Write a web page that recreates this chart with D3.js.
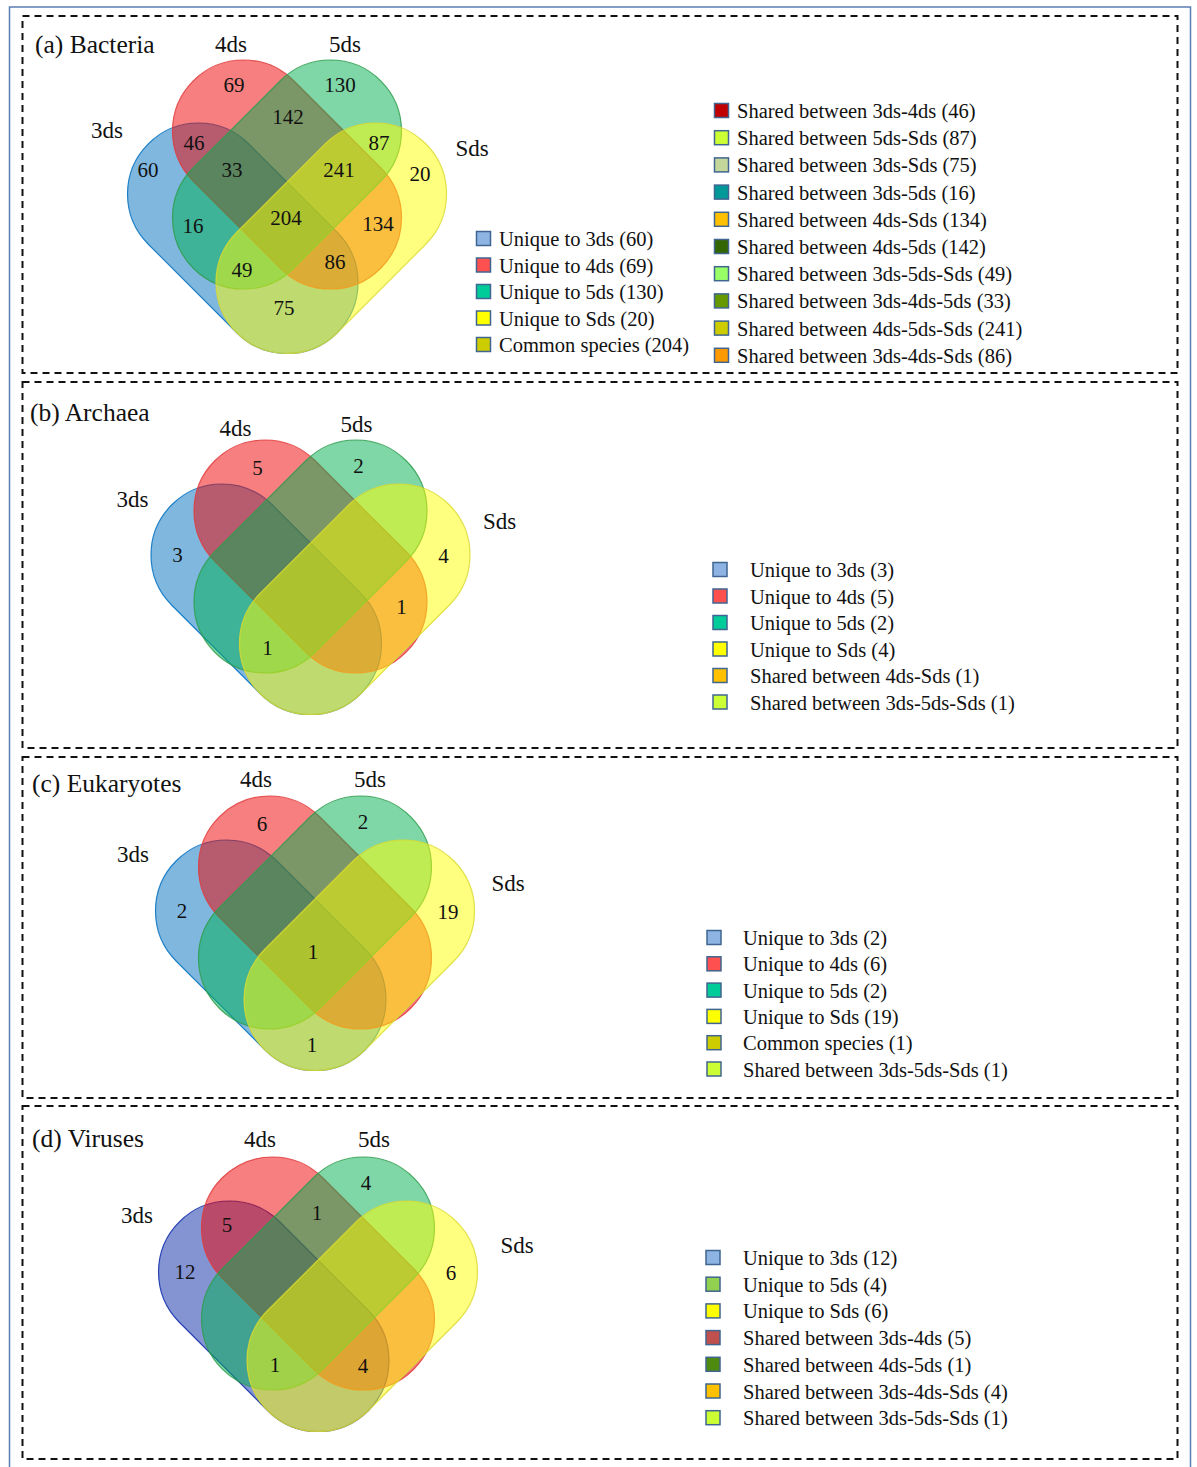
<!DOCTYPE html>
<html>
<head>
<meta charset="utf-8">
<script src="https://cdnjs.cloudflare.com/ajax/libs/d3/7.8.5/d3.min.js"></script>
<style>
  body { margin: 0; background: #fff; }
  text { font-family: "Liberation Serif", "Times New Roman", serif; fill: #111; }
</style>
</head>
<body>
<div id="vis_venn"></div>
<script>
// ---- data ----
const setNames = ["3ds", "4ds", "5ds", "Sds"];
const panelTitles = ["(a) Bacteria", "(b) Archaea", "(c) Eukaryotes", "(d) Viruses"];

const bacteriaRegions = ["3ds", "4ds", "5ds", "Sds", "3ds-4ds", "4ds-5ds", "5ds-Sds", "3ds-5ds", "4ds-Sds",
  "3ds-Sds", "3ds-4ds-5ds", "4ds-5ds-Sds", "3ds-5ds-Sds", "3ds-4ds-Sds", "3ds-4ds-5ds-Sds"];
const bacteriaCounts = [60, 69, 130, 20, 46, 142, 87, 16, 134, 75, 33, 241, 49, 86, 204];

const archaeaRegions = ["3ds", "4ds", "5ds", "Sds", "4ds-Sds", "3ds-5ds-Sds"];
const archaeaCounts = [3, 5, 2, 4, 1, 1];

const eukaryoteRegions = ["3ds", "4ds", "5ds", "Sds", "3ds-4ds-5ds-Sds", "3ds-Sds"];
const eukaryoteCounts = [2, 6, 2, 19, 1, 1];

const virusRegions = ["3ds", "5ds", "Sds", "3ds-4ds", "4ds-5ds", "3ds-5ds-Sds", "3ds-4ds-Sds"];
const virusCounts = [12, 4, 6, 5, 1, 1, 4];

const bacteriaLegend1 = ["Unique to 3ds", "Unique to 4ds", "Unique to 5ds", "Unique to Sds", "Common species"];
const bacteriaLegend1Counts = [60, 69, 130, 20, 204];
const bacteriaLegend2 = ["Shared between 3ds-4ds", "Shared between 5ds-Sds", "Shared between 3ds-Sds",
  "Shared between 3ds-5ds", "Shared between 4ds-Sds", "Shared between 4ds-5ds", "Shared between 3ds-5ds-Sds",
  "Shared between 3ds-4ds-5ds", "Shared between 4ds-5ds-Sds", "Shared between 3ds-4ds-Sds"];
const bacteriaLegend2Counts = [46, 87, 75, 16, 134, 142, 49, 33, 241, 86];
const archaeaLegend = ["Unique to 3ds", "Unique to 4ds", "Unique to 5ds", "Unique to Sds",
  "Shared between 4ds-Sds", "Shared between 3ds-5ds-Sds"];
const archaeaLegendCounts = [3, 5, 2, 4, 1, 1];
const eukaryoteLegend = ["Unique to 3ds", "Unique to 4ds", "Unique to 5ds", "Unique to Sds",
  "Common species", "Shared between 3ds-5ds-Sds"];
const eukaryoteLegendCounts = [2, 6, 2, 19, 1, 1];
const virusLegend = ["Unique to 3ds", "Unique to 5ds", "Unique to Sds", "Shared between 3ds-4ds",
  "Shared between 4ds-5ds", "Shared between 3ds-4ds-Sds", "Shared between 3ds-5ds-Sds"];
const virusLegendCounts = [12, 4, 6, 5, 1, 4, 1];

// ---- styles ----
const legend1Colors = ["#8DB4E2", "#FF5050", "#00CC99", "#FFFF00", "#CCCC00"];
const legend2Colors = ["#C00000", "#CCFF33", "#C4D79B", "#009999", "#FFC000", "#336600", "#99FF66", "#669900", "#CCCC00", "#FF9900"];
const archaeaColors = ["#8DB4E2", "#FF5050", "#00CC99", "#FFFF00", "#FFC000", "#CCFF33"];
const eukaryoteColors = ["#8DB4E2", "#FF5050", "#00CC99", "#FFFF00", "#CCCC00", "#CCFF33"];
const virusColors = ["#8DB4E2", "#92D050", "#FFFF00", "#C0504D", "#4F8A10", "#FFC000", "#CCFF33"];

const setFill = { "3ds": "#0070C0", "4ds": "#F00000", "5ds": "#00B050", "Sds": "#FFFF00" };
const setStroke = { "3ds": "#2A56B8", "4ds": "#E03A3A", "5ds": "#2E9E4C", "Sds": "#DADA30" };

// region label anchors, relative to the venn origin (centre of the 4ds top lobe axis)
const stdAnchors = {
  "3ds": [-133, 44], "4ds": [-53, -43], "5ds": [48, -45], "Sds": [133, 45],
  "3ds-4ds": [-91, -3], "4ds-5ds": [-1, -15], "4ds-Sds": [91, 96],
  "3ds-5ds-Sds": [-43, 137], "3ds-4ds-Sds": [45, 138], "3ds-4ds-5ds-Sds": [-2, 85], "3ds-Sds": [-3, 178]
};
const tallAnchors = {
  "3ds": [-139, 39], "4ds": [-53, -46], "5ds": [53, -46], "Sds": [133, 43],
  "3ds-4ds": [-93, 12], "4ds-5ds": [1, -14], "5ds-Sds": [92, 12], "3ds-5ds": [-94, 95], "4ds-Sds": [91, 93],
  "3ds-Sds": [-3, 177], "3ds-4ds-5ds": [-55, 39], "4ds-5ds-Sds": [52, 39], "3ds-5ds-Sds": [-45, 139],
  "3ds-4ds-Sds": [48, 131], "3ds-4ds-5ds-Sds": [-1, 87]
};

const R = 71;

const panels = [
  { title: panelTitles[0], titlePos: [35, 53], box: [16, 357], origin: [287, 131], lobe: 43.5, drop: 63,
    regions: bacteriaRegions, counts: bacteriaCounts, anchors: tallAnchors,
    setLabels: [[-180, -1], [-56, -87], [58, -87], [185, 17]], blue: "#0070C0",
    legends: [
      { names: bacteriaLegend1, counts: bacteriaLegend1Counts, colors: legend1Colors, sx: 476.5, tx: 499, y0: 246, step: 26.5 },
      { names: bacteriaLegend2, counts: bacteriaLegend2Counts, colors: legend2Colors, sx: 714.5, tx: 737, y0: 118, step: 27.2 }
    ] },
  { title: panelTitles[1], titlePos: [30, 421], box: [382, 366], origin: [310.5, 511], lobe: 45.5, drop: 44,
    regions: archaeaRegions, counts: archaeaCounts, anchors: stdAnchors,
    setLabels: [[-178, -12], [-75, -83], [46, -87], [189, 10]], blue: "#0070C0",
    legends: [{ names: archaeaLegend, counts: archaeaLegendCounts, colors: archaeaColors, sx: 713, tx: 750, y0: 577, step: 26.5 }] },
  { title: panelTitles[2], titlePos: [32, 792], box: [757, 341], origin: [315, 867], lobe: 45.5, drop: 44,
    regions: eukaryoteRegions, counts: eukaryoteCounts, anchors: stdAnchors,
    setLabels: [[-182, -13], [-59, -88], [55, -88], [193, 16]], blue: "#0070C0",
    legends: [{ names: eukaryoteLegend, counts: eukaryoteLegendCounts, colors: eukaryoteColors, sx: 707, tx: 743, y0: 945, step: 26.3 }] },
  { title: panelTitles[3], titlePos: [32, 1147], box: [1106, 353], origin: [318, 1228], lobe: 45.5, drop: 44,
    regions: virusRegions, counts: virusCounts, anchors: stdAnchors,
    setLabels: [[-181, -13], [-58, -89], [56, -89], [199, 17]], blue: "#0A2AA8",
    legends: [{ names: virusLegend, counts: virusLegendCounts, colors: virusColors, sx: 706, tx: 743, y0: 1265, step: 26.7 }] }
];

const W = 1197, H = 1467;
const SVG = d3.select("#vis_venn").append("svg").attr("width", W).attr("height", H);
SVG.append("rect").attr("width", W).attr("height", H).attr("fill", "#fff");

// outer frame
SVG.append("rect").attr("x", 9.5).attr("y", 7).attr("width", 1181).attr("height", 1480)
  .attr("fill", "none").attr("stroke", "#5B7DB5").attr("stroke-width", 1.5);

// stadium shape between two centres
function capsule(p1, p2, r) {
  const dx = p2[0] - p1[0], dy = p2[1] - p1[1], L = Math.hypot(dx, dy);
  const nx = -dy / L * r, ny = dx / L * r;
  return "M" + (p1[0] + nx) + "," + (p1[1] + ny) +
    "L" + (p2[0] + nx) + "," + (p2[1] + ny) +
    "A" + r + "," + r + " 0 0 0 " + (p2[0] - nx) + "," + (p2[1] - ny) +
    "L" + (p1[0] - nx) + "," + (p1[1] - ny) +
    "A" + r + "," + r + " 0 0 0 " + (p1[0] + nx) + "," + (p1[1] + ny) + "Z";
}

panels.forEach(p => {
  const g = SVG.append("g");

  // dashed panel box
  g.append("rect").attr("x", 22.5).attr("y", p.box[0]).attr("width", 1155).attr("height", p.box[1])
    .attr("fill", "none").attr("stroke", "#111").attr("stroke-width", 2).attr("stroke-dasharray", "7,5");

  g.append("text").attr("x", p.titlePos[0]).attr("y", p.titlePos[1]).attr("font-size", 25.5).text(p.title);

  // venn space -> page
  const x = d3.scaleLinear().domain([-250, 250]).range([p.origin[0] - 250, p.origin[0] + 250]);
  const y = d3.scaleLinear().domain([-150, 300]).range([p.origin[1] - 150, p.origin[1] + 300]);
  const rr = x(R) - x(0);

  const ends = {
    "3ds": [[-88.5, p.drop], [0, p.drop + 88.5]],
    "4ds": [[-p.lobe, 0], [p.lobe, 2 * p.lobe]],
    "5ds": [[p.lobe, 0], [-p.lobe, 2 * p.lobe]],
    "Sds": [[88.5, p.drop], [0, p.drop + 88.5]]
  };

  g.selectAll("path.set")
    .data(setNames)
    .enter()
    .append("path")
      .attr("class", "set")
      .attr("d", s => capsule([x(ends[s][0][0]), y(ends[s][0][1])], [x(ends[s][1][0]), y(ends[s][1][1])], rr))
      .attr("fill", s => s === "3ds" ? p.blue : setFill[s])
      .attr("fill-opacity", 0.5)
      .attr("stroke", s => s === "3ds" ? p.blue : setStroke[s])
      .attr("stroke-opacity", 0.85)
      .attr("stroke-width", 1.2);

  g.selectAll("text.setlab")
    .data(setNames)
    .enter()
    .append("text")
      .attr("class", "setlab")
      .attr("x", (d, i) => x(p.setLabels[i][0]))
      .attr("y", (d, i) => y(p.setLabels[i][1]))
      .attr("text-anchor", "middle")
      .attr("dominant-baseline", "central")
      .attr("font-size", 23)
      .text(d => d);

  g.selectAll("text.num")
    .data(p.regions)
    .enter()
    .append("text")
      .attr("class", "num")
      .attr("x", d => x(p.anchors[d][0]))
      .attr("y", d => y(p.anchors[d][1]))
      .attr("text-anchor", "middle")
      .attr("dominant-baseline", "central")
      .attr("font-size", 21)
      .text((d, i) => p.counts[i]);

  // legends
  p.legends.forEach(lg => {
    const ly = d3.scaleLinear().domain([0, 1]).range([lg.y0, lg.y0 + lg.step]);
    const rows = g.selectAll(null)
      .data(lg.names)
      .enter()
      .append("g");
    rows.append("rect")
      .attr("x", lg.sx)
      .attr("y", (d, i) => ly(i) - 14.5)
      .attr("width", 14)
      .attr("height", 14)
      .attr("fill", (d, i) => lg.colors[i])
      .attr("stroke", "#3F6590")
      .attr("stroke-width", 1.5);
    rows.append("text")
      .attr("x", lg.tx)
      .attr("y", (d, i) => ly(i))
      .attr("font-size", 20.5)
      .text((d, i) => d + " (" + lg.counts[i] + ")");
  });
});
</script>
</body>
</html>
